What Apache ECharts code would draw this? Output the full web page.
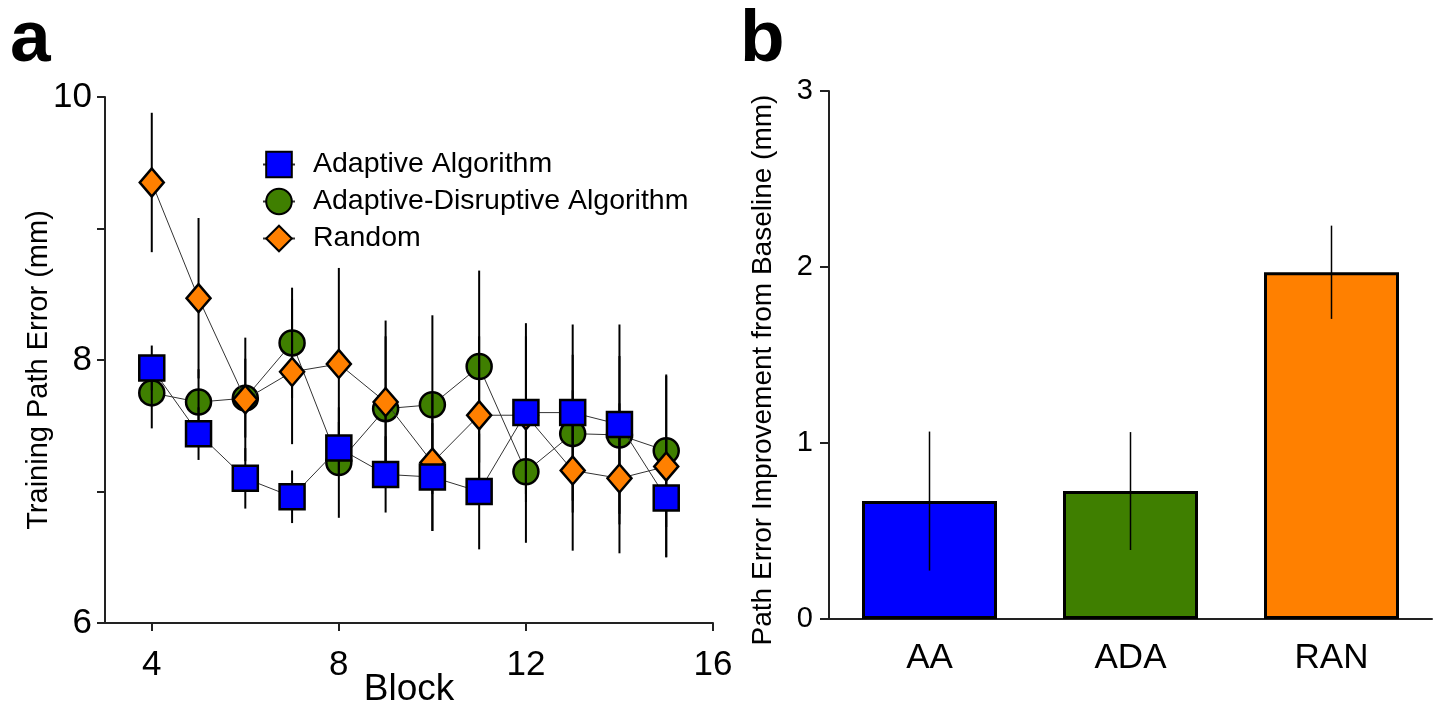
<!DOCTYPE html>
<html>
<head>
<meta charset="utf-8">
<script src="https://cdn.jsdelivr.net/npm/echarts@6/dist/echarts.min.js"></script>
<style>
html,body{margin:0;padding:0;background:#fff;}
#chart{width:1438px;height:706px;}
</style>
</head>
<body>
<div id="chart"></div>
<script>
// ---- Panel a data ----
const blocks = [4, 5, 6, 7, 8, 9, 10, 11, 12, 13, 14, 15];
const aaMean  = [7.94, 7.44, 7.10, 6.96, 7.33, 7.13, 7.11, 7.00, 7.60, 7.60, 7.51, 6.95];
const aaErr   = [0.17, 0.20, 0.23, 0.20, 0.20, 0.29, 0.41, 0.44, 0.68, 0.67, 0.76, 0.45];
const adaMean = [7.75, 7.68, 7.71, 8.13, 7.22, 7.63, 7.66, 7.95, 7.15, 7.44, 7.43, 7.31];
const adaErr  = [0.27, 0.25, 0.30, 0.42, 0.42, 0.55, 0.68, 0.73, 0.54, 0.60, 0.60, 0.58];
const ranMean = [9.35, 8.47, 7.70, 7.91, 7.97, 7.68, 7.22, 7.58, 7.58, 7.16, 7.10, 7.19];
const ranErr  = [0.53, 0.61, 0.47, 0.55, 0.73, 0.62, 0.52, 0.60, 0.60, 0.61, 0.57, 0.69];
const seriesNames = ['Adaptive Algorithm', 'Adaptive-Disruptive Algorithm', 'Random'];
const blockTicks = [4, 8, 12, 16];

// ---- Panel b data ----
const barCats = ['AA', 'ADA', 'RAN'];
const barVals = [0.67, 0.727, 1.97];
const barErrs = [0.395, 0.335, 0.265];

const FONT = 'Liberation Sans';
const BLUE = '#0000FF', GREEN = '#3F7F00', ORANGE = '#FF8000';

function pts(means) { return blocks.map((b, i) => [b, means[i]]); }
function errs(means, e) { return blocks.map((b, i) => [b, means[i] - e[i], means[i] + e[i]]); }

function errRender(width) {
  return function (params, api) {
    const x = api.value(0), lo = api.value(1), hi = api.value(2);
    const p1 = api.coord([x, lo]), p2 = api.coord([x, hi]);
    return { type: 'line', shape: { x1: p1[0], y1: p1[1], x2: p2[0], y2: p2[1] },
             style: { stroke: '#000', lineWidth: width } };
  };
}

const axisLineStyle = { color: '#222', width: 2 };

const chart = echarts.init(document.getElementById('chart'), null, { renderer: 'canvas' });
const option = {
  animation: false,
  textStyle: { fontFamily: FONT, color: '#000' },
  graphic: [
    { type: 'text', left: 10, top: 4, style: { text: 'a', font: 'bold 73px "Liberation Sans"', fill: '#000' } },
    { type: 'text', left: 740, top: 4, style: { text: 'b', font: 'bold 73px "Liberation Sans"', fill: '#000' } }
  ],
  legend: {
    data: seriesNames,
    orient: 'vertical',
    left: 262, top: 150, padding: 0,
    itemWidth: 32, itemHeight: 32, itemGap: 8,
    textStyle: { fontSize: 28.5, fontFamily: FONT, color: '#000', padding: [0, 0, 0, 13] }
  },
  grid: [
    { left: 105, top: 97, width: 608, height: 526, outerBoundsMode: 'none', containLabel: false },
    { left: 829, top: 91, width: 603, height: 528, outerBoundsMode: 'none', containLabel: false }
  ],
  xAxis: [
    {
      gridIndex: 0, type: 'value', min: 3, max: 16,
      name: 'Block', nameLocation: 'middle', nameGap: 48, nameMoveOverlap: false,
      nameTextStyle: { fontSize: 37, fontFamily: FONT, color: '#000' },
      axisLine: { lineStyle: axisLineStyle },
      axisTick: { customValues: blockTicks, length: 8, lineStyle: axisLineStyle },
      axisLabel: { customValues: blockTicks, fontSize: 35, color: '#000', margin: 25 },
      splitLine: { show: false }
    },
    {
      gridIndex: 1, type: 'category', data: barCats,
      axisLine: { lineStyle: axisLineStyle },
      axisTick: { alignWithLabel: true, length: 9, lineStyle: axisLineStyle },
      axisLabel: { fontSize: 35, color: '#000', margin: 22 },
      splitLine: { show: false }
    }
  ],
  yAxis: [
    {
      gridIndex: 0, type: 'value', min: 6, max: 10, interval: 2,
      name: 'Training Path Error (mm)', nameLocation: 'middle', nameGap: 52, nameMoveOverlap: false,
      nameTextStyle: { fontSize: 29, fontFamily: FONT, color: '#000', padding: [0, 20, 0, 0] },
      axisLine: { show: true, lineStyle: axisLineStyle },
      axisTick: { show: true, length: 8, lineStyle: axisLineStyle },
      minorTick: { show: true, splitNumber: 2, length: 8, lineStyle: axisLineStyle },
      axisLabel: { fontSize: 35, color: '#000', margin: 13 },
      splitLine: { show: false }, minorSplitLine: { show: false }
    },
    {
      gridIndex: 1, type: 'value', min: 0, max: 3, interval: 1,
      name: 'Path Error Improvement from Baseline (mm)', nameLocation: 'middle', nameGap: 52, nameMoveOverlap: false,
      nameTextStyle: { fontSize: 28, fontFamily: FONT, color: '#000', padding: [0, 30, 0, 0] },
      axisLine: { show: true, lineStyle: axisLineStyle },
      axisTick: { show: true, length: 9, lineStyle: axisLineStyle },
      axisLabel: { fontSize: 29, color: '#000', margin: 16 },
      splitLine: { show: false }
    }
  ],
  series: [
    {
      name: seriesNames[1], type: 'line', xAxisIndex: 0, yAxisIndex: 0, z: 2,
      data: pts(adaMean), symbol: 'circle', symbolSize: 25,
      lineStyle: { color: '#333', width: 1 },
      itemStyle: { color: GREEN, borderColor: '#000', borderWidth: 2.5 }
    },
    {
      name: 'err-ada', type: 'custom', xAxisIndex: 0, yAxisIndex: 0, z: 3,
      data: errs(adaMean, adaErr), encode: { x: 0, y: [1, 2] }, renderItem: errRender(2)
    },
    {
      name: 'err-ran', type: 'custom', xAxisIndex: 0, yAxisIndex: 0, z: 3,
      data: errs(ranMean, ranErr), encode: { x: 0, y: [1, 2] }, renderItem: errRender(2)
    },
    {
      name: 'err-aa', type: 'custom', xAxisIndex: 0, yAxisIndex: 0, z: 3,
      data: errs(aaMean, aaErr), encode: { x: 0, y: [1, 2] }, renderItem: errRender(2)
    },
    {
      name: seriesNames[2], type: 'line', xAxisIndex: 0, yAxisIndex: 0, z: 4,
      data: pts(ranMean), symbol: 'diamond', symbolSize: [24, 28],
      lineStyle: { color: '#333', width: 1 },
      itemStyle: { color: ORANGE, borderColor: '#000', borderWidth: 2.5 }
    },
    {
      name: seriesNames[0], type: 'line', xAxisIndex: 0, yAxisIndex: 0, z: 5,
      data: pts(aaMean), symbol: 'rect', symbolSize: 25,
      lineStyle: { color: '#333', width: 1 },
      itemStyle: { color: BLUE, borderColor: '#000', borderWidth: 2.5 }
    },
    {
      name: 'bars', type: 'bar', xAxisIndex: 1, yAxisIndex: 1, barWidth: 135,
      data: barVals.map((v, i) => ({ value: v, itemStyle: { color: [BLUE, GREEN, ORANGE][i] } })),
      itemStyle: { borderColor: '#000', borderWidth: 3 }
    },
    {
      name: 'bar-err', type: 'custom', xAxisIndex: 1, yAxisIndex: 1, z: 5,
      data: barVals.map((v, i) => [i, v - barErrs[i], v + barErrs[i]]),
      encode: { x: 0, y: [1, 2] }, renderItem: errRender(1.5)
    }
  ]
};
chart.setOption(option);
</script>
</body>
</html>
